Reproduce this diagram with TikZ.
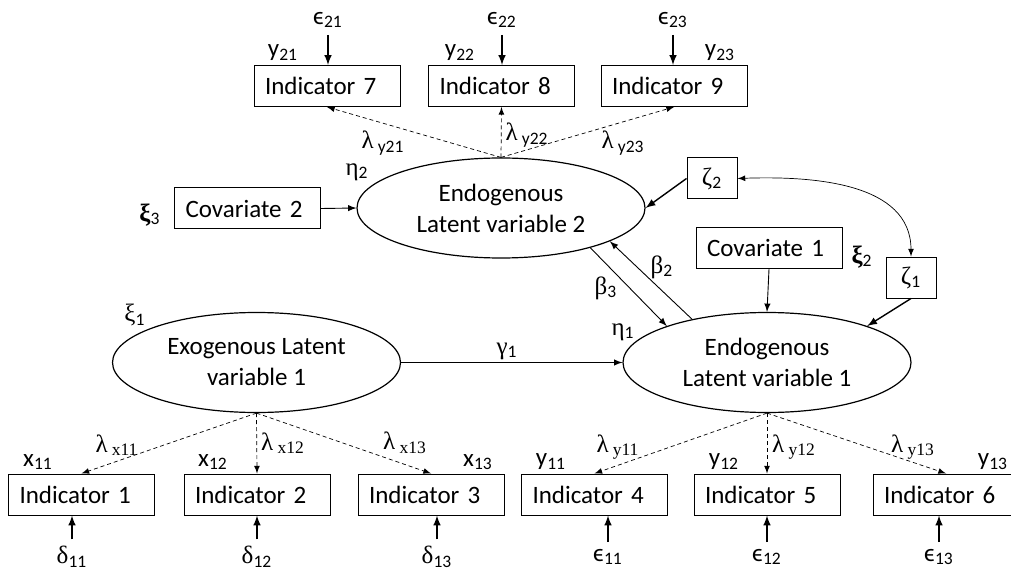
\documentclass[tikz,border=0pt]{standalone}
\usepackage{fontspec}
\setmainfont{Carlito}
\newfontfamily\grk{Liberation Serif}
\usetikzlibrary{shapes.geometric}
\newcommand{\gsub}[2]{{\grk #1}\textsubscript{#2}}
\newcommand{\lamx}[1]{{\grk λ\,\textsubscript{#1}}}
\newcommand{\lamy}[1]{{\grk λ}\,\textsubscript{#1}}

\begin{document}
\begin{tikzpicture}[x=0.5pt, y=-0.5pt, >=latex,
    every node/.style={font=\fontsize{12.5}{15.5}\selectfont},
    ind/.style={draw, line width=0.5pt, minimum height=20.5pt, text width=62pt, inner xsep=5.5pt, align=left},
    zbox/.style={draw, line width=0.5pt, minimum width=25pt, minimum height=20.5pt, inner sep=0pt},
    lat/.style={ellipse, draw, line width=0.6pt, minimum width=144pt, minimum height=50pt, inner sep=0pt, align=center},
    load/.style={->, dash pattern=on 2pt off 1.5pt, line width=0.35pt},
    err/.style={->, line width=0.7pt},
    reg/.style={->, line width=0.45pt}]
      \useasboundingbox (0,0) rectangle (1011,572);
      % latent variables
      \node[lat] (exo) at (256.5,362.5) {Exogenous Latent\\variable 1};
      \node[lat] (lv1) at (767,362.5) {Endogenous\\Latent variable 1};
      \node[lat] (lv2) at (501,208) {Endogenous\\Latent variable 2};
      % indicators
      \node[ind] (ind1) at (81.5,494.5) {Indicator 1};
      \node[ind] (ind2) at (257,494.5) {Indicator 2};
      \node[ind] (ind3) at (431,494.5) {Indicator 3};
      \node[ind] (ind4) at (594.5,494.5) {Indicator 4};
      \node[ind] (ind5) at (767,494.5) {Indicator 5};
      \node[ind] (ind6) at (946,494.5) {Indicator 6};
      \node[ind] (ind7) at (327,86) {Indicator 7};
      \node[ind] (ind8) at (501.5,86) {Indicator 8};
      \node[ind] (ind9) at (674,86) {Indicator 9};
      \node[ind] (cov2) at (247.5,208.5) {Covariate 2};
      \node[ind] (cov1) at (769,248) {Covariate 1};
      \node[zbox] (z2) at (712,178.5) {\gsub{ζ}{2}};
      \node[zbox] (z1) at (911,277.5) {\gsub{ζ}{1}};
      % error terms
      \node (d11) at (72,557) {\gsub{δ}{11}};
      \node (d12) at (257,557) {\gsub{δ}{12}};
      \node (d13) at (437,557) {\gsub{δ}{13}};
      \node (e11) at (608,557) {ϵ\textsubscript{11}};
      \node (e12) at (767,557) {ϵ\textsubscript{12}};
      \node (e13) at (939,557) {ϵ\textsubscript{13}};
      \node (e21) at (328,20) {ϵ\textsubscript{21}};
      \node (e22) at (502,20) {ϵ\textsubscript{22}};
      \node (e23) at (673,20) {ϵ\textsubscript{23}};
      \draw[err] (d11) -- (d11 |- ind1.south);
      \draw[err] (d12) -- (d12 |- ind2.south);
      \draw[err] (d13) -- (d13 |- ind3.south);
      \draw[err] (e11) -- (e11 |- ind4.south);
      \draw[err] (e12) -- (e12 |- ind5.south);
      \draw[err] (e13) -- (e13 |- ind6.south);
      \draw[err] (e21) -- (e21 |- ind7.north);
      \draw[err] (e22) -- (e22 |- ind8.north);
      \draw[err] (e23) -- (e23 |- ind9.north);
      % loadings
      \draw[load] (exo.south) -- (ind1.north);
      \draw[load] (exo.south) -- (ind2.north);
      \draw[load] (exo.south) -- (ind3.north);
      \draw[load] (lv1.south) -- (ind4.north);
      \draw[load] (lv1.south) -- (ind5.north);
      \draw[load] (lv1.south) -- (ind6.north);
      \draw[load] (lv2.north) -- (ind7.south);
      \draw[load] (lv2.north) -- (ind8.south);
      \draw[load] (lv2.north) -- (ind9.south);
      % structural paths
      \draw[reg] (exo.east) -- (lv1.west);
      \draw[reg] (lv2.-24) -- (lv1.160);
      \draw[reg] (lv1.150) -- (lv2.-17);
      \draw[reg] (cov2.east) -- (lv2.west);
      \draw[reg] (cov1.south) -- (lv1.north);
      \draw[err] (z2.west) -- (lv2.east);
      \draw[err] (z1.south) -- (lv1.20);
      \draw[<->, line width=0.35pt] (z2.east) to[out=2, in=90] (z1.north);
      % labels
      \node (lx11) at (117,445) {\lamx{x11}};
      \node (lx12) at (283,443) {\lamx{x12}};
      \node (lx13) at (405,443) {\lamx{x13}};
      \node (ly11) at (618,447) {\lamx{y11}};
      \node (ly12) at (794,447) {\lamx{y12}};
      \node (ly13) at (913,447) {\lamx{y13}};
      \node (ly21) at (383,143) {\lamy{y21}};
      \node (ly22) at (527,135) {\lamy{y22}};
      \node (ly23) at (623,143) {\lamy{y23}};
      \node (x11) at (38,462) {x\textsubscript{11}};
      \node (x12) at (213,462) {x\textsubscript{12}};
      \node (x13) at (478,462) {x\textsubscript{13}};
      \node (y11) at (551,462) {y\textsubscript{11}};
      \node (y12) at (724,462) {y\textsubscript{12}};
      \node (y13) at (993,462) {y\textsubscript{13}};
      \node (y21) at (283,53) {y\textsubscript{21}};
      \node (y22) at (460,53) {y\textsubscript{22}};
      \node (y23) at (720,53) {y\textsubscript{23}};
      \node (eta2) at (357,172) {\gsub{η}{2}};
      \node (eta1) at (623,332) {\gsub{η}{1}};
      \node (xi1) at (135,315) {\gsub{ξ}{1}};
      \node (xi2) at (862,257) {{\grk\bfseries ξ}\textsubscript{2}};
      \node (xi3) at (150,215) {{\grk\bfseries ξ}\textsubscript{3}};
      \node (b2) at (662,267) {\gsub{β}{2}};
      \node (b3) at (606,288) {\gsub{β}{3}};
      \node (g1) at (507,351) {\gsub{γ}{1}};
\end{tikzpicture}
\end{document}
